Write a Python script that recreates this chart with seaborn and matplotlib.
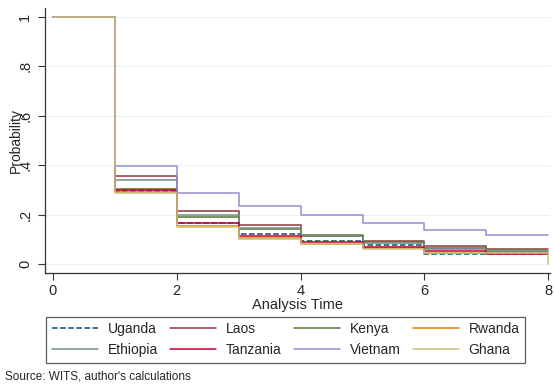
import matplotlib
matplotlib.use("Agg")
import matplotlib.pyplot as plt
import pandas as pd
import seaborn as sns

# step start times (survival probability holds until next time)
times = [0, 1, 2, 3, 4, 5, 6, 7, 8]

uganda = [1, 0.295, 0.165, 0.121, 0.092, 0.076, 0.042, 0.042]
laos = [1, 0.356, 0.214, 0.158, 0.115, 0.092, 0.073, 0.059]
kenya = [1, 0.302, 0.190, 0.140, 0.117, 0.090, 0.066, 0.053]
rwanda = [1, 0.290, 0.152, 0.104, 0.083, 0.064, 0.046, 0.046]
ethiopia = [1, 0.340, 0.198, 0.146, 0.112, 0.086, 0.062, 0.050]
tanzania = [1, 0.300, 0.168, 0.113, 0.088, 0.070, 0.053, 0.040]
vietnam = [1, 0.395, 0.286, 0.235, 0.198, 0.168, 0.138, 0.117]
ghana = [1, 0.289, 0.150, 0.103, 0.081, 0.062, 0.046, 0.046]

series = {
    "Uganda": uganda, "Laos": laos, "Kenya": kenya, "Rwanda": rwanda,
    "Ethiopia": ethiopia, "Tanzania": tanzania, "Vietnam": vietnam, "Ghana": ghana,
}
colors = {
    "Uganda": "#1a476f", "Laos": "#90353b", "Kenya": "#55752f", "Rwanda": "#e37e00",
    "Ethiopia": "#6e8e84", "Tanzania": "#c10534", "Vietnam": "#938dd2", "Ghana": "#cac27e",
}
# legend is filled column-wise by matplotlib
legend_order = ["Uganda", "Ethiopia", "Laos", "Tanzania", "Kenya", "Vietnam", "Rwanda", "Ghana"]

rows = []
for name, vals in series.items():
    for t, v in zip(times, vals + [vals[-1]]):
        rows.append({"country": name, "time": t, "prob": v})
    if name == "Ghana":
        rows[-1]["prob"] = 0.0  # last spell ends in exit
df = pd.DataFrame(rows)

sns.set_style("white")
plt.rcParams["font.family"] = ["Liberation Sans", "DejaVu Sans"]

fig = plt.figure(figsize=(5.54, 3.85), dpi=100)
ax = fig.add_axes([0.081, 0.291, 0.912, 0.688])

for name in series:
    sub = df[df["country"] == name]
    sns.lineplot(
        data=sub, x="time", y="prob", ax=ax, color=colors[name],
        drawstyle="steps-post", linewidth=1.1, estimator=None,
        linestyle="--" if name == "Uganda" else "-",
        label=name,
    )
h, l = ax.get_legend_handles_labels()
handles = dict(zip(l, h))

ax.set_xlim(-0.13, 8.03)
ax.set_ylim(-0.036, 1.035)
ax.set_xticks([0, 2, 4, 6, 8])
ax.set_yticks([0, 0.2, 0.4, 0.6, 0.8, 1.0])
ax.set_yticklabels(["0", ".2", ".4", ".6", ".8", "1"], rotation=90, va="center")
ax.tick_params(axis="both", labelsize=10.5, length=5, direction="out", color="#333333",
               left=True, bottom=True)
ax.tick_params(axis="y", pad=4)
ax.tick_params(axis="x", pad=3)
ax.grid(axis="y", color="#e8f0f2", linewidth=0.8)
ax.set_axisbelow(True)
for s in ["top", "right"]:
    ax.spines[s].set_visible(False)
for s in ["left", "bottom"]:
    ax.spines[s].set_color("#333333")
    ax.spines[s].set_linewidth(0.9)

ax.set_xlabel("Analysis Time", fontsize=10.5, labelpad=0)
ax.set_ylabel("Probability", fontsize=10)
ax.yaxis.set_label_coords(-0.044, 0.5)

leg = ax.legend(
    [handles[n] for n in legend_order], legend_order,
    ncol=4, loc="upper left", bbox_to_anchor=(0.003, -0.165),
    frameon=True, fancybox=False, edgecolor="#333333", fontsize=10,
    handlelength=3.3, columnspacing=0.9, handletextpad=0.7,
    borderpad=0.4, labelspacing=0.5, borderaxespad=0,
)
leg.get_frame().set_linewidth(0.9)

fig.text(0.009, 0.006, "Source: WITS, author's calculations", fontsize=8.5, ha="left", va="bottom")

fig.savefig("out.png", dpi=100)
